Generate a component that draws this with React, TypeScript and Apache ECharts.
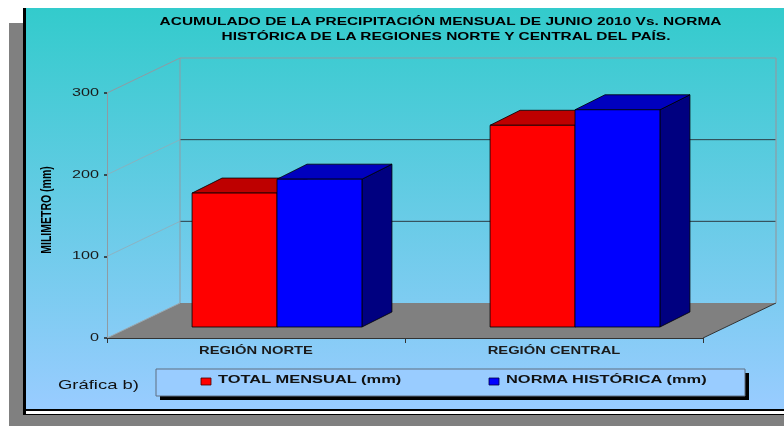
import React, { useEffect, useRef } from "react";
import * as echarts from "echarts";

// ---------- data ----------
const categories = ["REGIÓN NORTE", "REGIÓN CENTRAL"];
const totalMensual = [164, 247];
const normaHistorica = [181, 266];
const seriesNames = ["TOTAL MENSUAL (mm)", "NORMA HISTÓRICA (mm)"];
const yTicks = [0, 100, 200, 300];
const titleLines = [
  "ACUMULADO DE LA PRECIPITACIÓN MENSUAL DE JUNIO 2010 Vs. NORMA",
  "HISTÓRICA DE LA REGIONES NORTE Y CENTRAL DEL PAÍS.",
];
const yAxisTitle = "MILIMETRO (mm)";
const figureLabel = "Gráfica b)";

// ---------- layout / style ----------
const FAMILY = "'Liberation Sans', Arial, sans-serif";
const DEPTH_X = 73;
const DEPTH_Y = -35;
const BAR_OFF_X = 21;
const BAR_OFF_Y = -11;
const BAR_DX = 30;
const BAR_DY = -15;
const BAR_RATIO = 0.285;

const COLORS = {
  red: { front: "#FF0000", top: "#BE0000", side: "#800000" },
  blue: { front: "#0000FF", top: "#0000BE", side: "#000080" },
};

function measure(text: string, font: string): number {
  const ctx = document.createElement("canvas").getContext("2d");
  if (!ctx) return text.length * 6;
  ctx.font = font;
  return ctx.measureText(text).width;
}

export default function App() {
  const ref = useRef<HTMLDivElement>(null);

  useEffect(() => {
    if (!ref.current) return;
    const chart = echarts.init(ref.current, null, { renderer: "svg" });

    const titleFont = `bold 10.5px ${FAMILY}`;
    const titleScale = 563 / measure(titleLines[0], titleFont);
    const catFont = `bold 10px ${FAMILY}`;
    const catScale = 114 / measure(categories[0], catFont);
    const yLabFont = `11px ${FAMILY}`;
    const yLabScale = 27 / measure("300", yLabFont);
    const legFont = `bold 11px ${FAMILY}`;
    const legScale = 184 / measure(seriesNames[0], legFont);
    const figFont = `12px ${FAMILY}`;
    const figScale = 81 / measure(figureLabel, figFont);
    const yTitleFont = `bold 10.5px ${FAMILY}`;

    const barSeries = (name: string, values: number[], side: number, c: { front: string; top: string; side: string }) => ({
      type: "custom",
      name,
      z: 4,
      data: values.map((v, i) => [i, v]),
      renderItem: (params: any, api: any) => {
        const i = api.value(0);
        const v = api.value(1);
        const base = api.coord([i, 0]);
        const top = api.coord([i, v]);
        const band = api.size([1, 0])[0];
        const w = band * BAR_RATIO;
        const left = base[0] + BAR_OFF_X + (side === 0 ? -w : 0);
        const right = left + w;
        const yb = base[1] + BAR_OFF_Y;
        const yt = top[1] + BAR_OFF_Y;
        const stroke = { stroke: "#000", lineWidth: 0.8 };
        return {
          type: "group",
          children: [
            {
              type: "polygon",
              shape: { points: [[right, yt], [right + BAR_DX, yt + BAR_DY], [right + BAR_DX, yb + BAR_DY], [right, yb]] },
              style: { fill: c.side, ...stroke },
            },
            {
              type: "polygon",
              shape: { points: [[left, yt], [left + BAR_DX, yt + BAR_DY], [right + BAR_DX, yt + BAR_DY], [right, yt]] },
              style: { fill: c.top, ...stroke },
            },
            {
              type: "rect",
              shape: { x: left, y: yt, width: w, height: yb - yt },
              style: { fill: c.front, ...stroke },
            },
          ],
        };
      },
    });

    const frameSeries = {
      type: "custom",
      name: "frame",
      z: 1,
      silent: true,
      data: [[0, 0]],
      renderItem: (params: any, api: any) => {
        const cs = params.coordSys;
        const x0 = cs.x;
        const x1 = cs.x + cs.width;
        const yb = cs.y + cs.height;
        const yt = cs.y;
        const ch: any[] = [];
        ch.push({
          type: "polygon",
          shape: { points: [[x0, yb], [x0 + DEPTH_X, yb + DEPTH_Y], [x1 + DEPTH_X, yb + DEPTH_Y], [x1, yb]] },
          style: { fill: "#808080" },
        });
        ch.push({
          type: "line",
          shape: { x1: x0, y1: yb, x2: x0 + DEPTH_X, y2: yb + DEPTH_Y },
          style: { stroke: "#9aa8b0", lineWidth: 1 },
        });
        ch.push({
          type: "line",
          shape: { x1: x1, y1: yb, x2: x1 + DEPTH_X, y2: yb + DEPTH_Y },
          style: { stroke: "#333", lineWidth: 1 },
        });
        yTicks.forEach((t) => {
          if (t === 0) return;
          const y = api.coord([0, t])[1];
          const isTop = t === yTicks[yTicks.length - 1];
          ch.push({
            type: "line",
            shape: { x1: x0, y1: y, x2: x0 + DEPTH_X, y2: y + DEPTH_Y },
            style: { stroke: isTop ? "#8f9ba3" : "rgba(150,170,180,0.75)", lineWidth: 1 },
          });
          ch.push({
            type: "line",
            shape: { x1: x0 + DEPTH_X, y1: y + DEPTH_Y, x2: x1 + DEPTH_X, y2: y + DEPTH_Y },
            style: { stroke: isTop ? "#8f9ba3" : "#2c3c44", lineWidth: 1 },
          });
        });
        ch.push({
          type: "line",
          shape: { x1: x0 + DEPTH_X, y1: yt + DEPTH_Y, x2: x0 + DEPTH_X, y2: yb + DEPTH_Y },
          style: { stroke: "#8f9ba3", lineWidth: 1 },
        });
        ch.push({
          type: "line",
          shape: { x1: x1 + DEPTH_X, y1: yt + DEPTH_Y, x2: x1 + DEPTH_X, y2: yb + DEPTH_Y },
          style: { stroke: "#8f9ba3", lineWidth: 1.2 },
        });
        // y tick labels
        yTicks.forEach((t) => {
          const y = api.coord([0, t])[1];
          ch.push({
            type: "text",
            x: x0 - 8,
            y: y - 1,
            scaleX: yLabScale,
            style: { text: String(t), font: yLabFont, fill: "#1a1a1a", align: "right", verticalAlign: "middle" },
          });
        });
        // category labels
        categories.forEach((c, i) => {
          const cx = api.coord([i, 0])[0];
          ch.push({
            type: "text",
            x: cx,
            y: yb + 12.5,
            scaleX: catScale,
            style: { text: c, font: catFont, fill: "#1a1a1a", align: "center", verticalAlign: "middle" },
          });
        });
        return { type: "group", children: ch };
      },
    };

    const option: any = {
      animation: false,
      grid: { left: 107, top: 93, width: 596, height: 245, containLabel: false },
      xAxis: {
        type: "category",
        data: categories,
        boundaryGap: true,
        z: 5,
        axisLine: { show: true, lineStyle: { color: "#333", width: 1 } },
        axisTick: { show: true, length: 5, lineStyle: { color: "#333" } },
        axisLabel: { show: false },
        splitLine: { show: false },
      },
      yAxis: {
        type: "value",
        min: 0,
        max: 300,
        interval: 100,
        z: 5,
        axisLine: { show: true, lineStyle: { color: "#8f9ba3", width: 1 } },
        axisTick: { show: true, length: 3, lineStyle: { color: "#222", width: 1.5 } },
        axisLabel: { show: false },
        splitLine: { show: false },
      },
      series: [
        frameSeries,
        barSeries(seriesNames[0], totalMensual, 0, COLORS.red),
        barSeries(seriesNames[1], normaHistorica, 1, COLORS.blue),
      ],
      graphic: {
        elements: [
          { type: "rect", z: -20, silent: true, shape: { x: 9, y: 23, width: 775, height: 403 }, style: { fill: "#808080" } },
          { type: "rect", z: -19, silent: true, shape: { x: 23, y: 8, width: 770, height: 407 }, style: { fill: "#000" } },
          { type: "rect", z: -18, silent: true, shape: { x: 26, y: 8, width: 770, height: 406 }, style: { fill: "#fff" } },
          { type: "rect", z: -17, silent: true, shape: { x: 26, y: 8, width: 770, height: 403 }, style: { fill: "#000" } },
          {
            type: "rect",
            z: -16,
            silent: true,
            shape: { x: 26, y: 8, width: 770, height: 401 },
            style: {
              fill: new echarts.graphic.LinearGradient(0, 0, 0, 1, [
                { offset: 0, color: "#33CBCC" },
                { offset: 1, color: "#99CCFF" },
              ]),
            },
          },
          {
            type: "text",
            z: 50,
            x: 440.5,
            y: 21.5,
            scaleX: titleScale,
            style: { text: titleLines[0], font: titleFont, fill: "#000", align: "center", verticalAlign: "middle" },
          },
          {
            type: "text",
            z: 50,
            x: 446,
            y: 36.5,
            scaleX: titleScale,
            style: { text: titleLines[1], font: titleFont, fill: "#000", align: "center", verticalAlign: "middle" },
          },
          {
            type: "text",
            z: 50,
            x: 46,
            y: 210,
            rotation: Math.PI / 2,
            scaleY: 1.35,
            style: { text: yAxisTitle, font: yTitleFont, fill: "#000", align: "center", verticalAlign: "middle" },
          },
          {
            type: "text",
            z: 50,
            x: 58,
            y: 384.5,
            scaleX: figScale,
            style: { text: figureLabel, font: figFont, fill: "#111", align: "left", verticalAlign: "middle" },
          },
          // legend
          { type: "rect", z: 40, shape: { x: 160, y: 373, width: 589, height: 27 }, style: { fill: "#000" } },
          { type: "rect", z: 41, shape: { x: 156, y: 369, width: 589, height: 27 }, style: { fill: "#99CCFF", stroke: "#5f6f80", lineWidth: 1 } },
          { type: "rect", z: 42, shape: { x: 201, y: 378, width: 10, height: 7 }, style: { fill: COLORS.red.front, stroke: "#400", lineWidth: 0.8 } },
          { type: "rect", z: 42, shape: { x: 489, y: 378, width: 10, height: 7 }, style: { fill: COLORS.blue.front, stroke: "#004", lineWidth: 0.8 } },
          {
            type: "text",
            z: 42,
            x: 218,
            y: 379,
            scaleX: legScale,
            style: { text: seriesNames[0], font: legFont, fill: "#111", align: "left", verticalAlign: "middle" },
          },
          {
            type: "text",
            z: 42,
            x: 506,
            y: 379,
            scaleX: legScale,
            style: { text: seriesNames[1], font: legFont, fill: "#111", align: "left", verticalAlign: "middle" },
          },
        ],
      },
    };

    chart.setOption(option);
    return () => chart.dispose();
  }, []);

  return <div ref={ref} style={{ position: "fixed", left: 0, top: 0, width: 784, height: 426 }} />;
}
